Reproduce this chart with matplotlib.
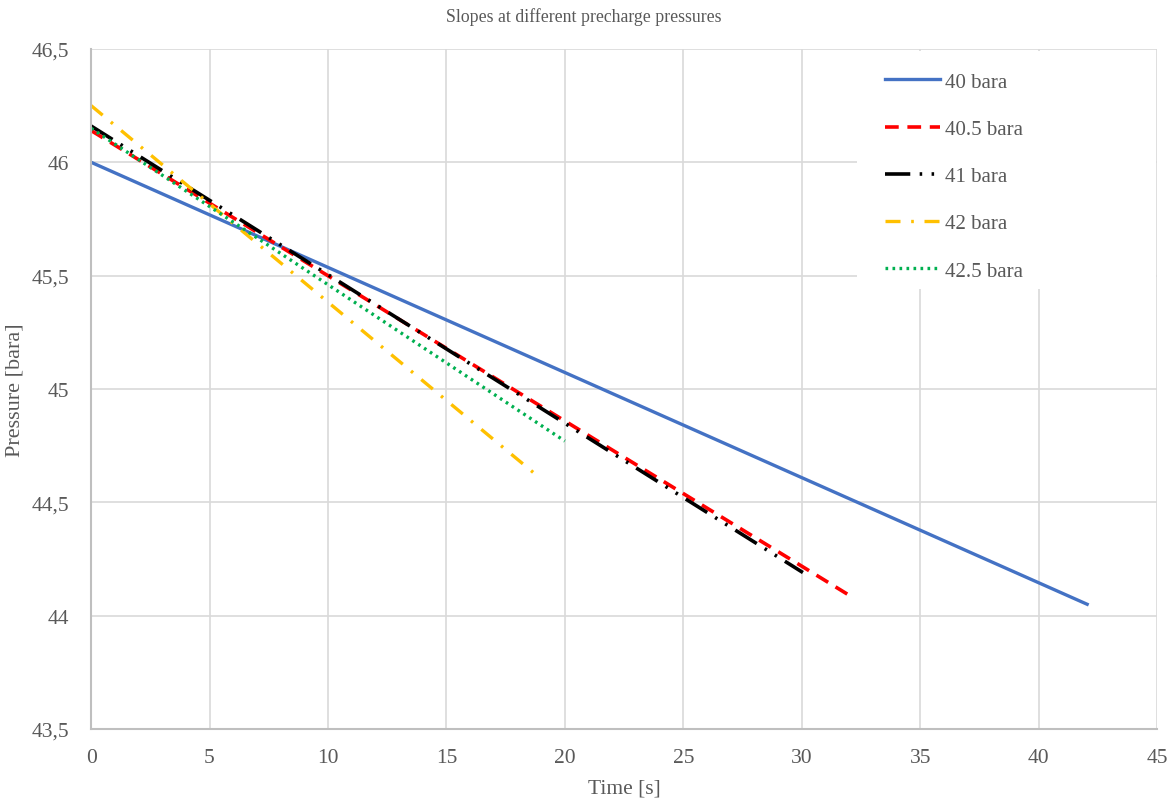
import matplotlib
matplotlib.use('Agg')
import matplotlib.pyplot as plt
from matplotlib.ticker import FuncFormatter, MultipleLocator
from matplotlib.patches import Rectangle

# start/end of each slope line
labels = ['40 bara', '40.5 bara', '41 bara', '42 bara', '42.5 bara']
t_40 = [0, 42.05]
p_40 = [46.0, 44.05]
t_405 = [0, 32.0]
p_405 = [46.14, 44.09]
t_41 = [0, 30.05]
p_41 = [46.16, 44.19]
t_42 = [0, 18.8]
p_42 = [46.25, 44.62]
t_425 = [0, 20.0]
p_425 = [46.15, 44.77]

plt.rcParams['font.family'] = ['Liberation Serif', 'DejaVu Serif']
txt = '#595959'

fig = plt.figure(figsize=(11.68, 8.03), dpi=100)
ax = fig.add_axes([0.078, 0.091, 0.9126, 0.8468])

ax.plot(t_40, p_40, color='#4472C4', lw=2.4, label=labels[0])
ax.plot(t_405, p_405, color='#FF0000', lw=2.6, dashes=(3.8, 2.4), label=labels[1])
ax.plot(t_41, p_41, color='#000000', lw=2.6, dashes=(7, 2.6, 0.7, 2.6, 0.7, 2.6), label=labels[2])
ax.plot(t_42, p_42, color='#FFC000', lw=2.4, dashes=(4.5, 3.2, 0.8, 3.2), label=labels[3])
ax.plot(t_425, p_425, color='#00B050', lw=2.4, dashes=(0.8, 1.3), label=labels[4])

ax.set_xlim(0, 45)
ax.set_ylim(43.5, 46.5)
ax.xaxis.set_major_locator(MultipleLocator(5))
ax.yaxis.set_major_locator(MultipleLocator(0.5))
ax.yaxis.set_major_formatter(FuncFormatter(lambda v, pos: ('%g' % v).replace('.', ',')))

ax.grid(True, color='#D9D9D9', lw=1.2)
ax.set_axisbelow(True)
for s in ['top', 'right']:
    ax.spines[s].set_visible(False)
for s in ['left', 'bottom']:
    ax.spines[s].set_color('#BFBFBF')
    ax.spines[s].set_linewidth(1.5)
ax.tick_params(length=0, labelsize=15.5, labelcolor=txt)
ax.tick_params(axis='x', pad=14)
ax.tick_params(axis='y', pad=16)

ax.set_xlabel('Time [s]', fontsize=15.5, color=txt, labelpad=8)
ax.set_ylabel('Pressure [bara]', fontsize=16, color=txt, labelpad=5)
fig.text(0.5, 0.99, 'Slopes at different precharge pressures', ha='center', va='top',
         fontsize=12.8, color=txt)

# white legend area covering the grid, like the spreadsheet chart
ax.add_patch(Rectangle((32.35, 45.44), 12.6, 1.05, facecolor='white', edgecolor='none',
                       zorder=1.5))

leg = ax.legend(loc='upper left', bbox_to_anchor=(885 / 1168, 1 - 73 / 803),
                bbox_transform=fig.transFigure, frameon=False, fontsize=15,
                handlelength=2.65, handletextpad=0.25, labelspacing=1.33,
                borderpad=0, borderaxespad=0)
for t in leg.get_texts():
    t.set_color(txt)

fig.savefig('out.png', dpi=100)
